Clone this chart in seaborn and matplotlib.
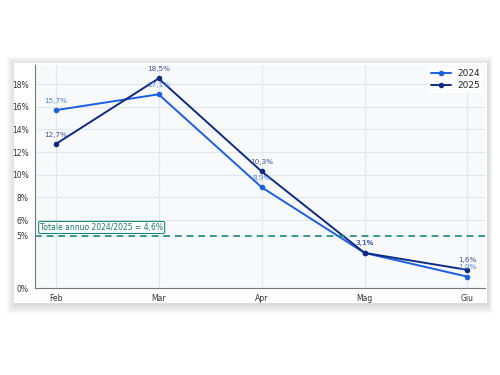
import numpy as np
import pandas as pd
import matplotlib
matplotlib.use("Agg")
import matplotlib.pyplot as plt
import seaborn as sns
from matplotlib.patches import Rectangle

mesi = ["Feb", "Mar", "Apr", "Mag", "Giu"]
valori_2024 = [15.7, 17.1, 8.9, 3.1, 1.0]
valori_2025 = [12.7, 18.5, 10.3, 3.1, 1.6]
anni = ["2024", "2025"]
totale_annuo = 4.6
y_ticks = [0, 4.6, 6, 8, 10, 12, 14, 16, 18]

colori = {"2024": "#1c5fe0", "2025": "#0f2a82"}
colori_label = {"2024": "#4f82ea", "2025": "#44548f"}

df = pd.DataFrame({
    "mese": mesi * 2,
    "valore": valori_2024 + valori_2025,
    "anno": ["2024"] * len(mesi) + ["2025"] * len(mesi),
})

sns.set_style("white")
plt.rcParams["font.family"] = ["DejaVu Sans"]

fig = plt.figure(figsize=(5, 3.75), dpi=100)
fig.patch.set_facecolor("white")

# cornice bianca con ombra sfumata
x0, y0, w, h = 0.028, 0.192, 0.946, 0.64
for i in range(12, 0, -1):
    d = i * 0.002
    fig.patches.append(Rectangle((x0 - d * 0.75 + 0.002, y0 - d - 0.005), w + 1.5 * d * 0.75, h + 2 * d,
                                 transform=fig.transFigure, facecolor="black",
                                 alpha=0.012, edgecolor="none", zorder=0))
fig.patches.append(Rectangle((x0, y0), w, h, transform=fig.transFigure,
                             facecolor="white", edgecolor="none", zorder=1))

ax = fig.add_axes([0.07, 0.232, 0.9, 0.595])
ax.set_facecolor("#f7f9fb")
ax.set_zorder(2)

sns.lineplot(data=df, x="mese", y="valore", hue="anno", palette=colori,
             marker="o", markersize=4, markeredgewidth=0, linewidth=1.4,
             ax=ax, sort=False)

for anno, vals in zip(anni, [valori_2024, valori_2025]):
    for m, v in zip(mesi, vals):
        ax.annotate(f"{v:.1f}%".replace(".", ","), (mesi.index(m), v),
                    textcoords="offset points", xytext=(0, 5.5), ha="center",
                    fontsize=5.2, color=colori_label[anno])

ax.axhline(totale_annuo, color="#1a8a7e", linestyle=(0, (4, 3)), linewidth=1.2)
ax.text(-0.15, totale_annuo + 0.35, f"Totale annuo 2024/2025 = {totale_annuo:.1f}%".replace(".", ","),
        fontsize=5.5, color="#1a7a70", va="bottom", ha="left",
        bbox=dict(boxstyle="round,pad=0.2", facecolor="white", edgecolor="#1a8a7e", linewidth=0.8))

ax.set_xlim(-0.2, 4.17)
ax.set_ylim(0, 19.7)
ax.set_yticks(y_ticks)
ax.set_yticklabels([f"{t:.0f}%" for t in y_ticks])
ax.grid(True, color="#e3e7ec", linewidth=0.8)
ax.tick_params(axis="both", labelsize=5.5, length=2.5, width=0.6, colors="#333333", pad=2)
ax.set_xlabel("")
ax.set_ylabel("")
for s in ["top", "right"]:
    ax.spines[s].set_visible(False)
for s in ["left", "bottom"]:
    ax.spines[s].set_color("#777777")
    ax.spines[s].set_linewidth(0.8)

leg = ax.legend(loc="upper right", fontsize=6.5, frameon=True, borderaxespad=0.2,
                handlelength=2.2, borderpad=0.3, labelspacing=0.3)
leg.get_frame().set_edgecolor("none")
leg.get_frame().set_facecolor("white")

fig.savefig("out.png", dpi=100)
